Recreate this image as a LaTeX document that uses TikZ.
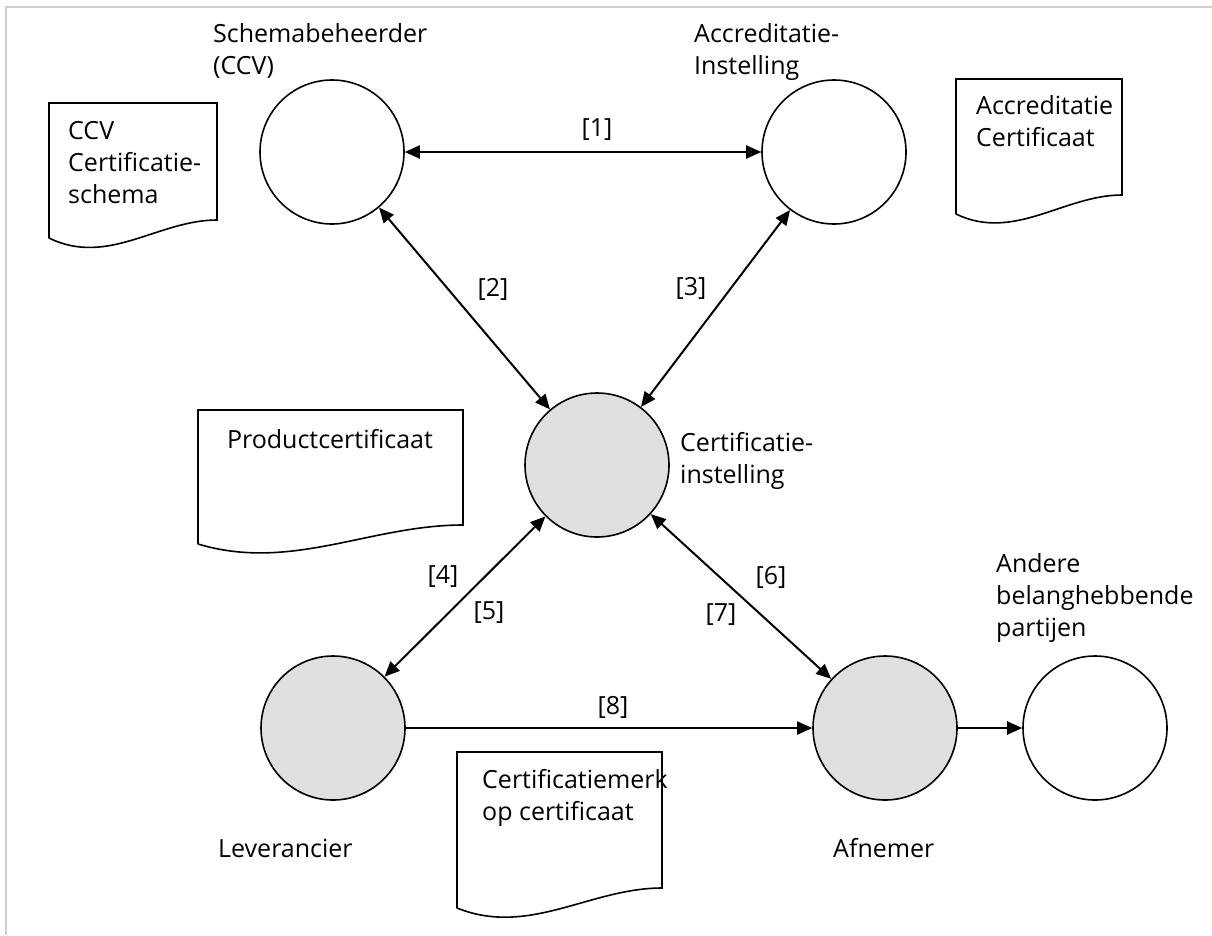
\documentclass[tikz,border=0pt]{standalone}
\usepackage{fontspec}
\setmainfont{Open Sans}
\usetikzlibrary{arrows.meta}
\definecolor{framegray}{RGB}{205,205,205}
\definecolor{fillgray}{RGB}{223,223,223}
\tikzset{
  party/.style={circle, draw=black, line width=1.6pt, minimum size=144pt, inner sep=0pt},
  busy/.style={party, fill=fillgray},
  conn/.style={line width=2pt, draw=black},
  tip/.style={-{Triangle[length=15pt,width=13pt]}},
  bitip/.style={{Triangle[length=15pt,width=13pt]}-{Triangle[length=15pt,width=13pt]}},
  txt/.style={anchor=base west, inner sep=0pt, font=\fontsize{25}{32}\selectfont},
  num/.style={inner sep=0pt, font=\fontsize{25}{32}\selectfont},
  docshape/.style={line width=1.6pt, draw=black, fill=white}
}
\newcommand{\lines}[1]{\begin{tabular}[t]{@{}l@{}}#1\end{tabular}}
\begin{document}
\begin{tikzpicture}[x=1pt,y=-1pt]
\useasboundingbox (0,0) rectangle (1212,935);
% frame
\draw[framegray, line width=2pt] (6,935) -- (6,7) -- (1212,7);

% documents
\draw[docshape] (49,238) -- (49,103) -- (217,103) -- (217,220)
  .. controls (158,220) and (108,267) .. (49,238);
\draw[docshape] (956,214) -- (956,79) -- (1122,79) -- (1122,195)
  .. controls (1064,195) and (1014,242) .. (956,214);
\draw[docshape] (198,544) -- (198,410) -- (463,410) -- (463,525)
  .. controls (370,525) and (291,572) .. (198,544);
\draw[docshape] (457,908) -- (457,752) -- (662,752) -- (662,888)
  .. controls (590,888) and (529,937) .. (457,908);

\node[txt] (d1) at (68,139) {\lines{CCV\\Certificatie-\\schema}};
\node[txt] (d2) at (976,114) {\lines{Accreditatie\\Certificaat}};
\node[txt, anchor=base] (d3) at (330,448) {Productcertificaat};
\node[txt] (d4) at (482,788) {\lines{Certificatiemerk\\op certificaat}};

% parties
\node[party] (schema) at (332,152) {};
\node[party] (accr) at (834,152) {};
\node[busy] (ci) at (597,465) {};
\node[busy] (lev) at (333,728) {};
\node[busy] (afn) at (885,728) {};
\node[party] (andere) at (1095,728) {};

% party labels
\node[txt] (tschema) at (213,42) {\lines{Schemabeheerder\\(CCV)}};
\node[txt] (taccr) at (694,42) {\lines{Accreditatie-\\Instelling}};
\node[txt] (tci) at (680,451) {\lines{Certificatie-\\instelling}};
\node[txt] (tlev) at (218,857) {Leverancier};
\node[txt] (tafn) at (833,857) {Afnemer};
\node[txt] (tandere) at (996,572) {\lines{Andere\\belanghebbende\\partijen}};

% connectors
\draw[conn, bitip] (schema) -- (accr);
\draw[conn, bitip] (schema) -- (ci);
\draw[conn, bitip] (accr) -- (ci);
\draw[conn, bitip] (ci) -- (lev);
\draw[conn, bitip] (ci) -- (afn);
\draw[conn, tip] (lev) -- (afn);
\draw[conn, tip] (afn) -- (andere);

% connector labels
\node[num] (l1) at (597,130) {[1]};
\node[num] (l2) at (493,289) {[2]};
\node[num] (l3) at (691,288) {[3]};
\node[num] (l4) at (443,576) {[4]};
\node[num] (l5) at (489,613) {[5]};
\node[num] (l6) at (771,577) {[6]};
\node[num] (l7) at (721,615) {[7]};
\node[num] (l8) at (613,707) {[8]};
\end{tikzpicture}
\end{document}
